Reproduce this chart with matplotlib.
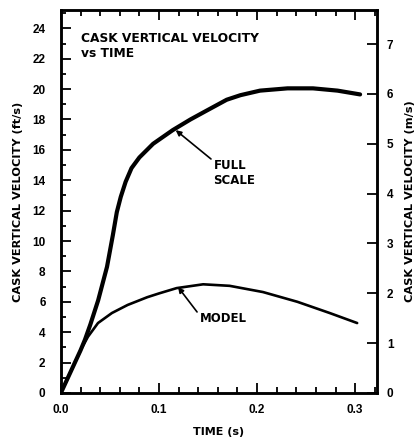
import matplotlib
matplotlib.use("Agg")
import matplotlib.pyplot as plt
from matplotlib.ticker import MultipleLocator, FixedLocator

plt.rcParams['font.family'] = ['Liberation Sans', 'DejaVu Sans']
plt.rcParams['font.weight'] = 'bold'
WIDE = ['DejaVu Sans']

# Full-scale cask vertical velocity (ft/s) vs time (s)
full_t = [0.0, 0.01, 0.02, 0.0245, 0.03, 0.038, 0.047, 0.053, 0.057, 0.061,
          0.066, 0.072, 0.080, 0.094, 0.114, 0.132, 0.149, 0.169, 0.183, 0.203,
          0.231, 0.257, 0.282, 0.305]
full_v = [0.0, 1.4, 2.8, 3.5, 4.5, 6.1, 8.3, 10.4, 11.9, 12.9,
          13.9, 14.8, 15.5, 16.4, 17.3, 18.0, 18.6, 19.3, 19.6, 19.9,
          20.05, 20.05, 19.9, 19.65]

# Model cask vertical velocity (ft/s) vs time (s)
model_t = [0.0, 0.01, 0.02, 0.0276, 0.0378, 0.052, 0.068, 0.088, 0.100,
           0.118, 0.145, 0.172, 0.206, 0.241, 0.274, 0.302]
model_v = [0.0, 1.4, 2.8, 3.7, 4.6, 5.26, 5.79, 6.3, 6.55,
           6.9, 7.15, 7.05, 6.64, 6.0, 5.26, 4.6]

x_ticks = [0.0, 0.1, 0.2, 0.3]
x_tick_labels = ['0.0', '0.1', '0.2', '0.3']
left_ticks = list(range(0, 25, 2))
right_ticks = list(range(0, 8))

FT_TO_M = 0.3048

fig = plt.figure(figsize=(4.2, 4.4), dpi=100)
ax = fig.add_axes([0.145, 0.107, 0.753, 0.870])

ax.plot(full_t, full_v, color='black', lw=3.0, solid_capstyle='round', solid_joinstyle='round')
ax.plot(model_t, model_v, color='black', lw=1.9, solid_capstyle='round', solid_joinstyle='round')

ax.set_xlim(0, 0.3224)
ax.set_ylim(0, 25.2)

ax.xaxis.set_major_locator(FixedLocator(x_ticks))
ax.set_xticklabels(x_tick_labels)
ax.xaxis.set_minor_locator(MultipleLocator(0.02))
ax.yaxis.set_major_locator(FixedLocator(left_ticks))
ax.yaxis.set_minor_locator(MultipleLocator(1))

ax.tick_params(axis='x', which='both', direction='in', top=True, bottom=True,
               labelsize=8.5, pad=8, width=1.3)
ax.tick_params(axis='x', which='major', length=7)
ax.tick_params(axis='x', which='minor', length=4)
ax.tick_params(axis='y', which='both', direction='in', left=True, right=False,
               labelsize=8.5, pad=11, width=1.3)
ax.tick_params(axis='y', which='major', length=7)
ax.tick_params(axis='y', which='minor', length=3.5)

for s in ax.spines.values():
    s.set_linewidth(1.8)

ax.set_xlabel('TIME (s)', fontsize=8, fontweight='bold', family=WIDE, labelpad=8)
ax.set_ylabel('CASK VERTICAL VELOCITY (ft/s)', fontsize=8.2, fontweight='bold',
              family=WIDE, labelpad=7)

ax2 = ax.twinx()
ax2.set_ylim(0, 25.2 * FT_TO_M)
ax2.yaxis.set_major_locator(FixedLocator(right_ticks))
ax2.tick_params(axis='y', which='major', direction='in', length=7, width=1.3,
                labelsize=8.5, pad=7)
ax2.tick_params(axis='y', which='minor', right=False)
ax2.set_ylabel('CASK VERTICAL VELOCITY (m/s)', fontsize=8.2, fontweight='bold',
               family=WIDE, labelpad=8)
for s in ax2.spines.values():
    s.set_linewidth(1.8)

ax.text(0.0204, 23.36, 'CASK VERTICAL VELOCITY', fontsize=8.8, fontweight='bold',
        family=WIDE, ha='left', va='center')
ax.text(0.0204, 22.35, 'vs TIME', fontsize=8.8, fontweight='bold',
        family=WIDE, ha='left', va='center')

ax.text(0.1555, 15.0, 'FULL', fontsize=8.5, fontweight='bold', family=WIDE,
        ha='left', va='center')
ax.text(0.1555, 14.0, 'SCALE', fontsize=8.5, fontweight='bold', family=WIDE,
        ha='left', va='center')
ax.annotate('', xy=(0.117, 17.3), xytext=(0.153, 15.4),
            arrowprops=dict(arrowstyle='-|>', color='black', lw=1.2,
                            mutation_scale=8, shrinkA=0, shrinkB=0))

ax.text(0.1418, 4.93, 'MODEL', fontsize=8.5, fontweight='bold', family=WIDE,
        ha='left', va='center')
ax.annotate('', xy=(0.1194, 6.97), xytext=(0.1388, 5.33),
            arrowprops=dict(arrowstyle='-|>', color='black', lw=1.2,
                            mutation_scale=8, shrinkA=0, shrinkB=0))

fig.savefig('out.png', dpi=100)
